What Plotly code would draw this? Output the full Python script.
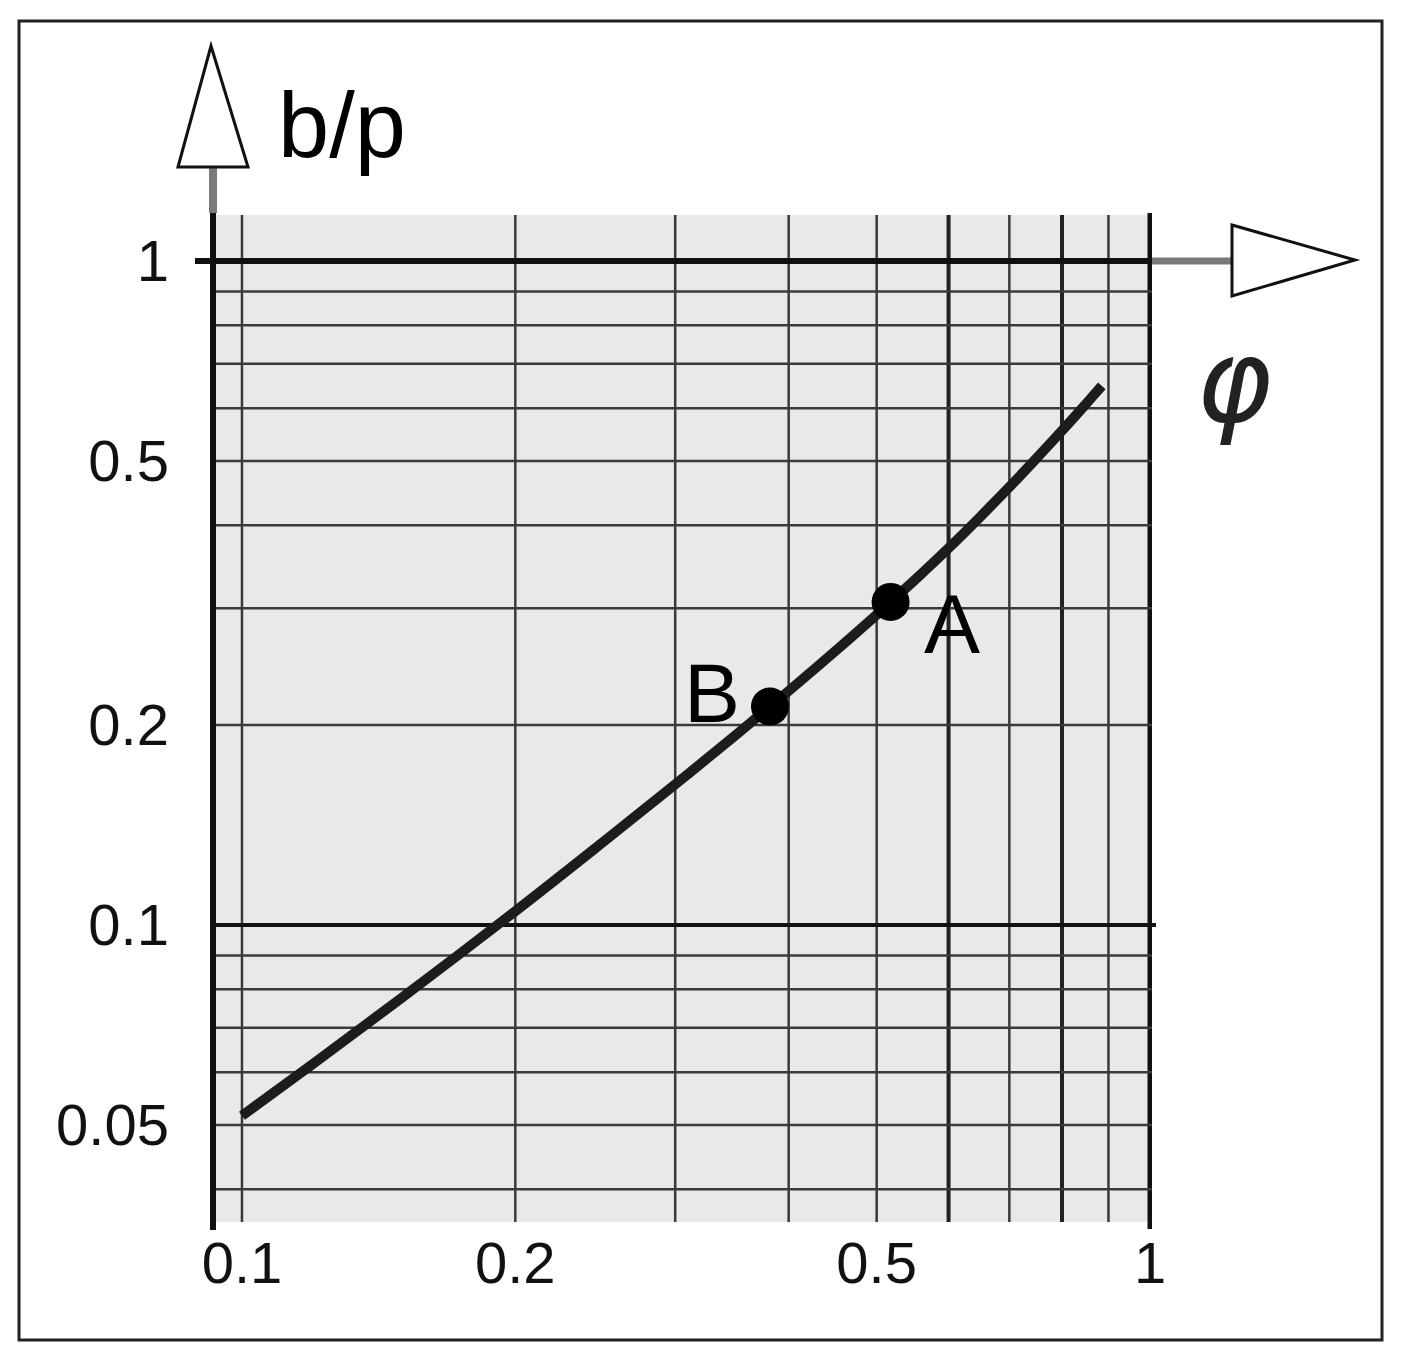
import math
import plotly.graph_objects as go

# ---------------- data ----------------
phi = [0.10, 0.12, 0.15, 0.20, 0.25, 0.30, 0.35, 0.3815, 0.40, 0.45, 0.50, 0.518,
       0.55, 0.60, 0.65, 0.70, 0.75, 0.80, 0.85, 0.885]
bp = [0.0516, 0.0619, 0.0777, 0.1049, 0.1334, 0.1628, 0.1934, 0.2133, 0.2251, 0.2584,
      0.2933, 0.3066, 0.3302, 0.3694, 0.4117, 0.4566, 0.5046, 0.5552, 0.6091, 0.6485]

point_labels = ["A", "B"]
point_phi = [0.518, 0.3815]
point_bp = [0.3066, 0.2133]

x_tickvals = [0.1, 0.2, 0.5, 1]
x_ticktext = ["0.1", "0.2", "0.5", "1"]
y_tickvals = [0.05, 0.1, 0.2, 0.5, 1]
y_ticktext = ["0.05", "0.1", "0.2", "0.5", "1"]

x_grid = [0.1, 0.2, 0.3, 0.4, 0.5, 0.6, 0.7, 0.8, 0.9, 1.0]
y_grid = [0.04, 0.05, 0.06, 0.07, 0.08, 0.09, 0.1, 0.2, 0.3, 0.4, 0.5, 0.6, 0.7, 0.8, 0.9, 1.0]

x_title = "\u03c6"
y_title = "b/p"

# ---------------- layout geometry ----------------
W, H = 1410, 1367
L, R, T, B = 214, 258, 215, 145
x_range = [-1.0308, 0.0022]
y_range = [-1.4473, 0.0693]


def px(xp):
    return (xp - L) / (W - L - R)


def py(yp):
    return 1 - (yp - T) / (H - T - B)


FONT = "Liberation Sans"
GRID = "#3a3a3a"
BLACK = "#111111"
STEM = "#7a7a7a"
BG = "#e9e9e9"

fig = go.Figure()

fig.add_trace(go.Scatter(
    x=phi, y=bp, mode="lines",
    line=dict(color="#1c1c1c", width=10, shape="spline", smoothing=1.0),
    hoverinfo="skip", showlegend=False,
))
fig.add_trace(go.Scatter(
    x=point_phi, y=point_bp, mode="markers",
    marker=dict(size=38, color="black"),
    text=point_labels, hoverinfo="text", showlegend=False,
))

shapes = []
# plot background
shapes.append(dict(type="rect", xref="paper", yref="paper", x0=px(214), x1=px(1152),
                   y0=py(1222), y1=py(215), fillcolor=BG, line=dict(width=0), layer="below"))
# vertical grid lines
for v in x_grid:
    if v == 1.0:
        w, c, y0, y1 = 5, BLACK, py(1229), py(213)
    elif v in (0.6, 0.8):
        w, c, y0, y1 = 4, "#222222", 0, py(215)
    else:
        w, c, y0, y1 = 2.5, GRID, 0, py(215)
    shapes.append(dict(type="line", xref="x", yref="paper", x0=v, x1=v, y0=y0, y1=y1,
                       line=dict(color=c, width=w), layer="below"))
# horizontal grid lines
for v in y_grid:
    if v == 1.0:
        w, c, x0, x1 = 6, BLACK, px(195), px(1152)
    elif v == 0.1:
        w, c, x0, x1 = 4, BLACK, 0, px(1156)
    else:
        w, c, x0, x1 = 2.5, GRID, 0, px(1152)
    shapes.append(dict(type="line", xref="paper", yref="y", x0=x0, x1=x1, y0=v, y1=v,
                       line=dict(color=c, width=w), layer="below"))
# left axis line
shapes.append(dict(type="line", xref="paper", yref="paper", x0=px(213), x1=px(213),
                   y0=py(1230), y1=py(213), line=dict(color=BLACK, width=6), layer="below"))
# arrow stems
shapes.append(dict(type="line", xref="paper", yref="paper", x0=px(213), x1=px(213),
                   y0=py(213), y1=py(168), line=dict(color=STEM, width=8), layer="below"))
shapes.append(dict(type="line", xref="paper", yref="y", x0=px(1152), x1=px(1232),
                   y0=1, y1=1, line=dict(color=STEM, width=7), layer="below"))
# arrow heads (open triangles)
ya = f"M {px(178)} {py(167)} L {px(211)} {py(46)} L {px(248)} {py(167)} Z"
xa = f"M {px(1232)} {py(225)} L {px(1355)} {py(260)} L {px(1232)} {py(296)} Z"
for p in (ya, xa):
    shapes.append(dict(type="path", xref="paper", yref="paper", path=p,
                       fillcolor="white", line=dict(color=BLACK, width=3), layer="below"))
# outer frame
shapes.append(dict(type="rect", xref="paper", yref="paper", x0=px(19), x1=px(1382),
                   y0=py(1340), y1=py(21), line=dict(color="#222222", width=3),
                   fillcolor="rgba(0,0,0,0)", layer="above"))

annotations = [
    dict(xref="paper", yref="paper", x=px(342), y=py(125), text=y_title, showarrow=False,
         xanchor="center", yanchor="middle", font=dict(family=FONT, size=92, color="black")),
    dict(xref="paper", yref="paper", x=px(1234), y=py(381), text=f"<i>{x_title}</i>",
         showarrow=False, xanchor="center", yanchor="middle",
         font=dict(family="DejaVu Sans", size=115, color="#222222")),
]
shifts = {"A": (61, -22), "B": (-58, 14)}
for lab, xv, yv in zip(point_labels, point_phi, point_bp):
    dx, dy = shifts[lab]
    annotations.append(dict(xref="x", yref="y", x=math.log10(xv), y=math.log10(yv), text=lab,
                            showarrow=False, xshift=dx, yshift=dy, xanchor="center",
                            yanchor="middle", font=dict(family=FONT, size=84, color="black")))

axis_common = dict(type="log", showgrid=False, zeroline=False, showline=False, ticks="",
                   tickfont=dict(family=FONT, size=58, color="#111111"), fixedrange=True)

fig.update_layout(
    width=W, height=H,
    margin=dict(l=L, r=R, t=T, b=B, pad=0),
    paper_bgcolor="white", plot_bgcolor="rgba(0,0,0,0)",
    xaxis=dict(range=x_range, tickmode="array", tickvals=x_tickvals, ticktext=x_ticktext,
               ticklabelstandoff=2, **axis_common),
    yaxis=dict(range=y_range, tickmode="array", tickvals=y_tickvals, ticktext=y_ticktext,
               ticklabelstandoff=44, **axis_common),
    shapes=shapes, annotations=annotations, showlegend=False,
)

fig.write_html("out.html", config={"displayModeBar": False},
               post_script="document.body.style.margin='0px';")
